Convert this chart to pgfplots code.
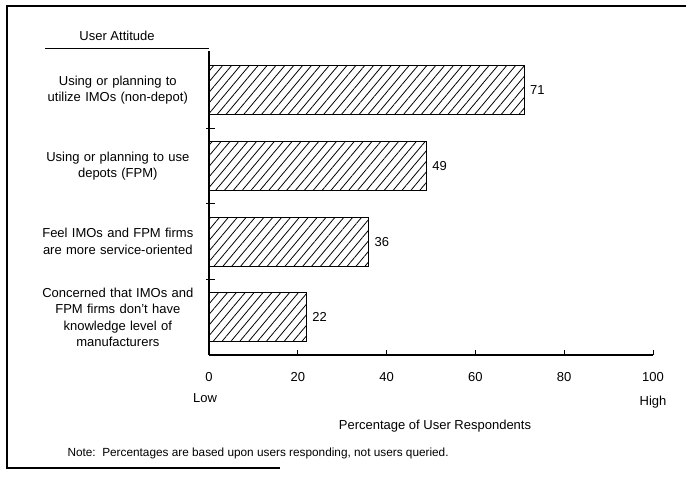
\documentclass[border=0pt]{standalone}
\usepackage{fontspec}
\setmainfont{Liberation Sans}
\usepackage{pgfplots}
\pgfplotsset{compat=1.18}
\usetikzlibrary{patterns.meta}
\newcommand\lf{\fontsize{13}{16.5}\selectfont}
\begin{document}
\begin{tikzpicture}
\useasboundingbox (0,0) rectangle (686pt,479pt);
% frame
\draw[line width=1.2pt] (686pt,473pt) -- (7pt,473pt) -- (7pt,11pt) -- (280pt,11pt);
% column header
\node[font=\lf] at (117pt,443pt) {User Attitude};
\draw[line width=1pt] (45pt,430pt) -- (209pt,430pt);
\begin{axis}[
  at={(209pt,124pt)}, anchor=south west,
  scale only axis, width=444pt, height=304pt,
  xbar, bar width=49pt,
  xmin=0, xmax=100, ymin=0.5, ymax=4.52,
  axis x line*=bottom, axis y line*=left,
  axis line style={line width=1.1pt, -},
  xtick={0,20,...,100},
  tick align=inside, major tick length=5pt,
  xtick style={black, line width=0.9pt},
  ytick={1,2,3,4},
  ytick style={draw=none},
  yticklabels={
    {Concerned that IMOs and\\FPM firms don't have\\knowledge level of\\manufacturers},
    {Feel IMOs and FPM firms\\are more service-oriented},
    {Using or planning to use\\depots (FPM)},
    {Using or planning to\\utilize IMOs (non-depot)}},
  yticklabel style={font=\lf, align=center, text width=160pt, inner sep=0pt, xshift=-11pt},
  xticklabel style={font=\lf, yshift=-14pt},
  /pgf/number format/assume math mode=true,
  xlabel={Percentage of User Respondents},
  xlabel style={font=\lf, at={(axis description cs:0.509,0)}, anchor=center, yshift=-71pt},
  nodes near coords,
  nodes near coords style={font=\lf, anchor=west, xshift=2pt, /pgf/number format/assume math mode=true},
  clip=false,
]
\addplot[draw=black, line width=0.9pt,
  pattern={Lines[angle=50, distance=6.8pt, line width=0.8pt]}]
  coordinates {(71,4) (49,3) (36,2) (22,1)};
\draw[line width=0.9pt] (axis cs:-0.6,1.5) -- (axis cs:1.3,1.5);
\draw[line width=0.9pt] (axis cs:-0.6,2.5) -- (axis cs:1.3,2.5);
\draw[line width=0.9pt] (axis cs:-0.6,3.5) -- (axis cs:1.3,3.5);
\end{axis}
\node[font=\lf] at (205pt,81pt) {Low};
\node[font=\lf] at (653pt,77pt) {High};
\node[font=\fontsize{11.8}{14}\selectfont, anchor=west] at (64pt,26pt) {Note:\ \ Percentages are based upon users responding, not users queried.};
\end{tikzpicture}
\end{document}
